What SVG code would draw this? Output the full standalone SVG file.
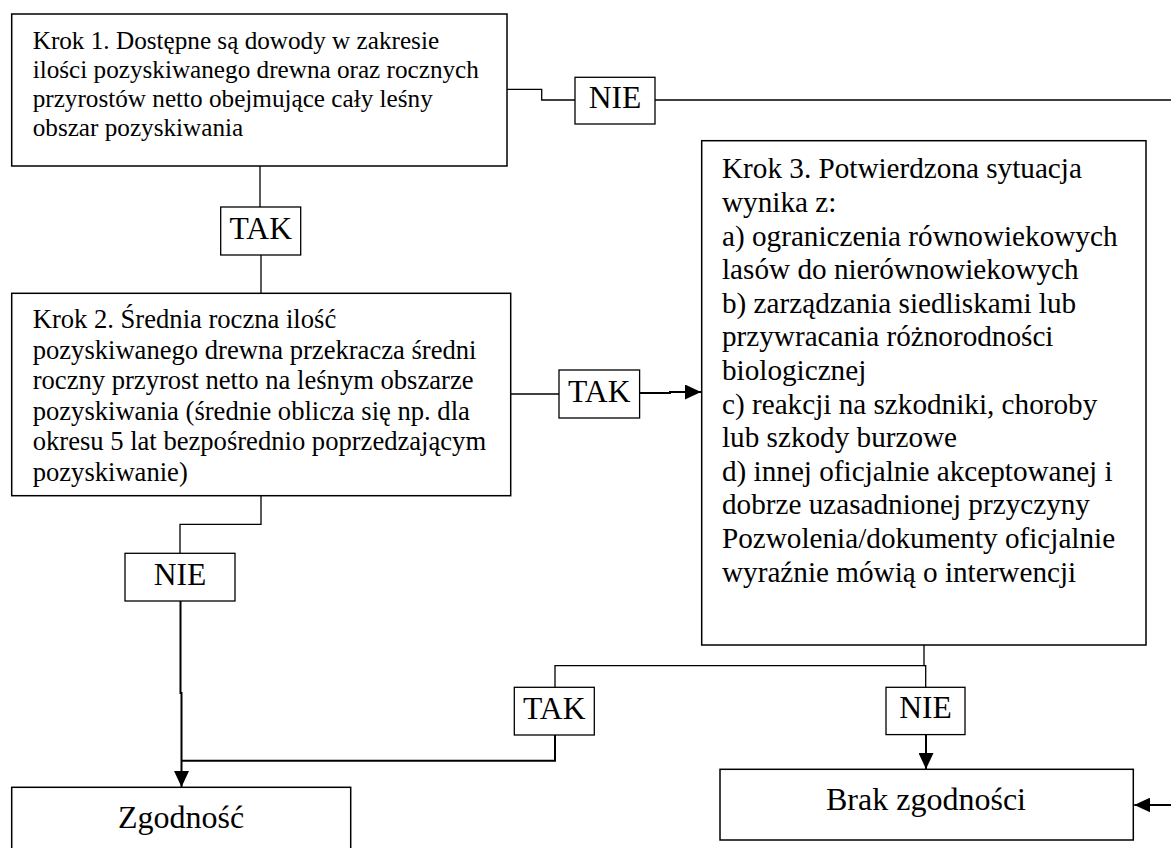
<svg xmlns="http://www.w3.org/2000/svg" width="1171" height="848" viewBox="0 0 1171 848">
<style>
  .box { fill: #ffffff; stroke: #000000; stroke-width: 1.5; }
  .lbl { fill: #ffffff; stroke: #000000; stroke-width: 1.3; }
  .t { font-family: "Liberation Serif", "Times New Roman", serif; fill: #000000; }
  .c { fill: none; stroke: #000000; stroke-width: 1.3; }
  .ca { fill: none; stroke: #000000; stroke-width: 2; }
  .lt { font-size: 31.6px; text-anchor: middle; }
</style>
<defs>
  <marker id="arrow" markerUnits="userSpaceOnUse" markerWidth="17" markerHeight="15" refX="16" refY="7.5" orient="auto">
    <path d="M0,0 L16,7.5 L0,15 Z" fill="#000000"/>
  </marker>
</defs>
<rect x="0" y="0" width="1171" height="848" fill="#ffffff"/>

<g id="connectors">
  <path class="c" d="M507,89.3 H541.7 V100 H575"/>
  <path class="c" d="M655,100 H1185 V805 H1152"/>
  <path class="ca" d="M1171,805 H1134.3" marker-end="url(#arrow)"/>
  <path class="c" d="M260,166 V207"/>
  <path class="c" d="M261,255 V293"/>
  <path class="c" d="M511,394 H559"/>
  <path class="ca" d="M639.6,393 H670 V392 H701" marker-end="url(#arrow)"/>
  <path class="c" d="M261,495.7 V524.3 H180 V553.3"/>
  <path class="ca" d="M180.5,601 V693 H181.5 V787" marker-end="url(#arrow)"/>
  <path class="ca" d="M181.5,760.7 H555 V735"/>
  <path class="c" d="M924,645 V665.7 H555 V687.3"/>
  <path class="c" d="M924,665.7 H925.7 V687.3"/>
  <path class="ca" d="M926,735 V769" marker-end="url(#arrow)"/>
</g>

<g id="step1">
  <rect class="box" x="11.7" y="14" width="495.3" height="152"/>
  <text class="t" font-size="25.2">
    <tspan x="32.7" y="49.3">Krok 1. Dostępne są dowody w zakresie</tspan>
    <tspan x="32.7" y="78.2">ilości pozyskiwanego drewna oraz rocznych</tspan>
    <tspan x="32.7" y="107.1">przyrostów netto obejmujące cały leśny</tspan>
    <tspan x="32.7" y="136">obszar pozyskiwania</tspan>
  </text>
</g>

<g id="label-nie-1">
  <rect class="lbl" x="575" y="77.3" width="80" height="46.7"/>
  <text class="t lt" x="615" y="108.3">NIE</text>
</g>

<g id="label-tak-1">
  <rect class="lbl" x="220.7" y="207" width="80" height="48"/>
  <text class="t lt" x="260.8" y="239.3">TAK</text>
</g>

<g id="step2">
  <rect class="box" x="11.7" y="293.3" width="499" height="202.4"/>
  <text class="t" font-size="26.6">
    <tspan x="32.7" y="328.3">Krok 2. Średnia roczna ilość</tspan>
    <tspan x="32.7" y="358.8">pozyskiwanego drewna przekracza średni</tspan>
    <tspan x="32.7" y="389.3">roczny przyrost netto na leśnym obszarze</tspan>
    <tspan x="32.7" y="419.8">pozyskiwania (średnie oblicza się np. dla</tspan>
    <tspan x="32.7" y="450.3">okresu 5 lat bezpośrednio poprzedzającym</tspan>
    <tspan x="32.7" y="480.8">pozyskiwanie)</tspan>
  </text>
</g>

<g id="label-tak-2">
  <rect class="lbl" x="559" y="370" width="80.6" height="48"/>
  <text class="t lt" x="599.3" y="402.3">TAK</text>
</g>

<g id="step3">
  <rect class="box" x="701.7" y="140.7" width="444.3" height="504.3"/>
  <text class="t" font-size="29.2">
    <tspan x="722" y="178.3">Krok 3. Potwierdzona sytuacja</tspan>
    <tspan x="722" y="211.9">wynika z:</tspan>
    <tspan x="722" y="245.5">a) ograniczenia równowiekowych</tspan>
    <tspan x="722" y="279.1">lasów do nierównowiekowych</tspan>
    <tspan x="722" y="312.7">b) zarządzania siedliskami lub</tspan>
    <tspan x="722" y="346.3">przywracania różnorodności</tspan>
    <tspan x="722" y="379.9">biologicznej</tspan>
    <tspan x="722" y="413.5">c) reakcji na szkodniki, choroby</tspan>
    <tspan x="722" y="447.1">lub szkody burzowe</tspan>
    <tspan x="722" y="480.7">d) innej oficjalnie akceptowanej i</tspan>
    <tspan x="722" y="514.3">dobrze uzasadnionej przyczyny</tspan>
    <tspan x="722" y="547.9">Pozwolenia/dokumenty oficjalnie</tspan>
    <tspan x="722" y="581.5">wyraźnie mówią o interwencji</tspan>
  </text>
</g>

<g id="label-nie-2">
  <rect class="lbl" x="125" y="553.3" width="110" height="47.7"/>
  <text class="t lt" x="180" y="585">NIE</text>
</g>

<g id="label-tak-3">
  <rect class="lbl" x="514.3" y="687.3" width="80" height="47.7"/>
  <text class="t lt" x="554.3" y="718.5">TAK</text>
</g>

<g id="label-nie-3">
  <rect class="lbl" x="886" y="687.3" width="79" height="47.3"/>
  <text class="t lt" x="925.5" y="718.3">NIE</text>
</g>

<g id="zgodnosc">
  <rect class="box" x="11.7" y="787.3" width="339" height="80"/>
  <text class="t" font-size="32" text-anchor="middle" x="181" y="828">Zgodność</text>
</g>

<g id="brak-zgodnosci">
  <rect class="box" x="720" y="769.3" width="413.3" height="70.7"/>
  <text class="t" font-size="32" text-anchor="middle" x="926" y="810">Brak zgodności</text>
</g>
</svg>
